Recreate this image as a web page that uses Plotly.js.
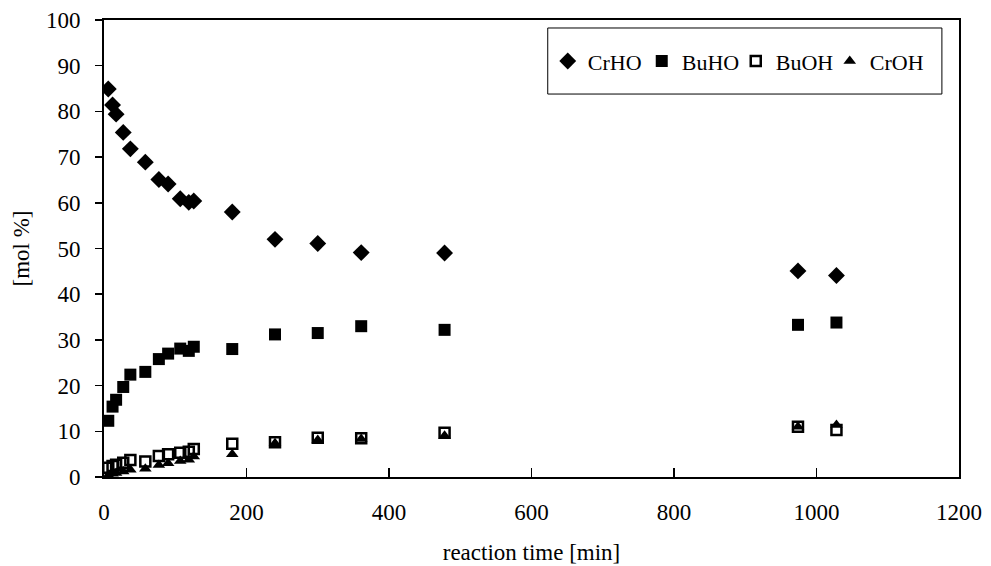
<!DOCTYPE html>
<html>
<head>
<meta charset="utf-8">
<script src="https://cdn.plot.ly/plotly-3.0.1.min.js"></script>
<style>html,body{margin:0;padding:0;background:#fff;}#chart{width:991px;height:566px;}</style>
</head>
<body>
<div id="chart"></div>
<script>
// reaction time [min]
const timeMin = [6, 12, 17, 27, 37, 58, 77, 90, 107, 119, 126, 180, 240, 300, 361, 478, 974, 1028];
const crHO = [84.9, 81.4, 79.4, 75.4, 71.8, 68.9, 65.1, 64.1, 60.9, 60.1, 60.4, 58.0, 52.0, 51.1, 49.1, 49.0, 45.1, 44.1];
const buHO = [12.3, 15.4, 16.9, 19.7, 22.4, 23.0, 25.8, 27.0, 28.1, 27.6, 28.5, 28.0, 31.2, 31.5, 33.0, 32.2, 33.3, 33.8];
const buOH = [2.0, 2.4, 2.7, 3.1, 3.7, 3.4, 4.6, 5.0, 5.3, 5.5, 6.1, 7.3, 7.6, 8.6, 8.5, 9.7, 11.0, 10.3];
const crOH = [0.4, 0.7, 0.9, 1.2, 1.6, 1.8, 2.6, 3.0, 3.5, 3.8, 4.5, 5.0, 7.4, 8.1, 8.3, 9.0, 11.0, 11.4];
const seriesNames = ["CrHO", "BuHO", "BuOH", "CrOH"];
const xTicks = [0, 200, 400, 600, 800, 1000, 1200];
const yTicks = [0, 10, 20, 30, 40, 50, 60, 70, 80, 90, 100];

const fam = "Liberation Serif, Times New Roman, serif";
const tickFont = {family: fam, size: 23, color: "#000"};

const traces = [
  {x: timeMin, y: crHO, name: seriesNames[0], mode: "markers", type: "scatter",
   marker: {symbol: "diamond", size: 13, color: "#000"}},
  {x: timeMin, y: buHO, name: seriesNames[1], mode: "markers", type: "scatter",
   marker: {symbol: "square", size: 12, color: "#000"}},
  {x: timeMin, y: buOH, name: seriesNames[2], mode: "markers", type: "scatter",
   marker: {symbol: "square-open", size: 10, color: "#000", line: {width: 2.5, color: "#000"}}},
  {x: timeMin, y: crOH, name: seriesNames[3], mode: "markers", type: "scatter",
   marker: {symbol: "triangle-up", size: 11, color: "#000"}}
];

const layout = {
  width: 991, height: 566,
  margin: {l: 104, r: 32, t: 20, b: 89, autoexpand: false},
  paper_bgcolor: "#fff", plot_bgcolor: "#fff",
  font: tickFont,
  showlegend: true,
  legend: {
    orientation: "h", x: 0.519, y: 0.910, xanchor: "left", yanchor: "middle",
    borderwidth: 0, bgcolor: "rgba(0,0,0,0)",
    font: {family: fam, size: 22, color: "#000"},
    entrywidth: 49, entrywidthmode: "pixels"
  },
  shapes: [{
    type: "rect", xref: "paper", yref: "paper",
    x0: 0.519, x1: 0.980, y0: 0.838, y1: 0.9825,
    line: {color: "#000", width: 1}, fillcolor: "rgba(0,0,0,0)"
  }],
  xaxis: {
    range: [0, 1200], tickvals: xTicks, ticktext: xTicks.map(String),
    showgrid: false, zeroline: false,
    showline: true, linecolor: "#000", linewidth: 2, mirror: true,
    ticks: "inside", ticklen: 9, tickwidth: 1.5, tickcolor: "#000",
    ticklabelstandoff: 13,
    tickfont: tickFont,
    title: {text: "reaction time [min]", font: tickFont, standoff: 20}
  },
  yaxis: {
    range: [0, 100], tickvals: yTicks, ticktext: yTicks.map(String),
    showgrid: false, zeroline: false,
    showline: true, linecolor: "#000", linewidth: 2, mirror: true,
    ticks: "outside", ticklen: 7, tickwidth: 1.5, tickcolor: "#000",
    ticklabelstandoff: 10,
    tickfont: tickFont,
    title: {text: "[mol %]", font: tickFont, standoff: 10}
  }
};

Plotly.newPlot("chart", traces, layout, {displayModeBar: false, staticPlot: true});
</script>
</body>
</html>
